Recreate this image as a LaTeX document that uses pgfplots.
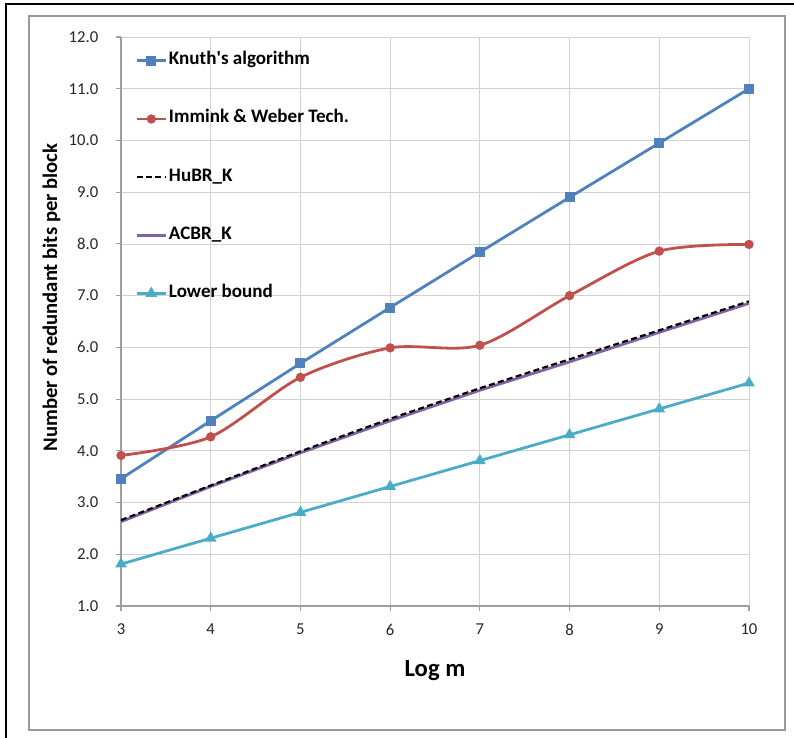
\documentclass[border=0pt]{standalone}
\usepackage{fontspec}
\setmainfont{Carlito}
\usepackage{pgfplots}
\pgfplotsset{compat=1.18}
\definecolor{cKnuth}{HTML}{4F81BD}
\definecolor{cImm}{HTML}{C0504D}
\definecolor{cACBR}{HTML}{8064A2}
\definecolor{cLow}{HTML}{4BACC6}
\newcommand{\tkfont}{\fontsize{12.5}{14}\selectfont}
\begin{document}
\begin{tikzpicture}
\useasboundingbox (-90.75pt,-99pt) rectangle (504.75pt,454.5pt);
\draw[black, line width=1pt] (-86.25pt,-120pt) -- (-86.25pt,451.5pt) -- (520pt,451.5pt);
\draw[gray!80, line width=0.8pt] (-69pt,-93pt) rectangle (498pt,442.5pt);
\begin{axis}[
  at={(0pt,0pt)}, anchor=south west,
  scale only axis, width=471pt, height=426.75pt,
  xmin=3, xmax=10, ymin=1, ymax=12,
  xtick={3,...,10}, ytick={1,...,12},
  axis lines*=left,
  axis line style={gray!75, line width=0.8pt},
  grid=major,
  major grid style={gray!35, line width=0.6pt},
  tick style={gray!75, line width=0.8pt},
  tick align=outside, major tick length=4pt,
  /pgf/number format/assume math mode=true,
  xticklabel={\hbox{\tkfont\pgfmathprintnumber{\tick}}},
  yticklabel={\hbox{\tkfont\pgfmathprintnumber[fixed,fixed zerofill,precision=1]{\tick}}},
  tick label style={text=black!85},
  xticklabel style={yshift=-6pt},
  yticklabel style={xshift=-9.5pt},
  xlabel={\textbf{Log m}},
  ylabel={\textbf{Number of redundant bits per block}},
  xlabel style={font=\fontsize{18.5}{21}\selectfont, at={(axis description cs:0.5,0)}, anchor=north, yshift=-37pt},
  ylabel style={font=\fontsize{15.5}{18}\selectfont, at={(axis description cs:0,0.5)}, anchor=south, yshift=42pt, xshift=18pt},
  legend cell align=left,
  legend image code/.code={\draw[mark repeat=2,mark phase=2,#1] plot coordinates {(0pt,0pt)(11pt,0pt)(22pt,0pt)};},
  legend style={draw=none, fill=none, at={(axis description cs:0,1)}, anchor=north west,
    xshift=10.5pt, yshift=-10.5pt, inner sep=0pt, row sep=29.2pt,
    nodes={inner sep=1.2pt, text height=9pt, text depth=3pt, anchor=west, font=\bfseries\fontsize{14.3}{16}\selectfont}},
]
\addplot[cKnuth, line width=2.1pt, mark=square*, mark size=2.7pt, mark options={solid}] coordinates {
(3,3.46)(4,4.58)(5,5.69)(6,6.77)(7,7.84)(8,8.90)(9,9.95)(10,11.0)};
\addlegendentry{Knuth\textquotesingle s algorithm}
\addplot[cImm, line width=2.1pt, smooth, mark=*, mark size=2.4pt, mark options={solid}] coordinates {
(3,3.91)(4,4.27)(5,5.42)(6,5.99)(7,6.04)(8,7.00)(9,7.86)(10,7.99)};
\addlegendentry{Immink \& Weber Tech.}
\addplot[cACBR, line width=2.1pt, forget plot] coordinates {
(3,2.63)(4,3.31)(5,3.96)(6,4.58)(7,5.17)(8,5.72)(9,6.29)(10,6.85)};
\addplot[black, line width=1.6pt, dash pattern=on 4.5pt off 2.5pt] coordinates {
(3,2.66)(4,3.33)(5,3.99)(6,4.62)(7,5.21)(8,5.77)(9,6.33)(10,6.89)};
\addlegendentry{HuBR\_K}
\addlegendimage{cACBR, line width=2.1pt}
\addlegendentry{ACBR\_K}
\addplot[cLow, line width=2.1pt, mark=triangle*, mark size=3pt, mark options={solid}] coordinates {
(3,1.81)(4,2.31)(5,2.81)(6,3.31)(7,3.81)(8,4.31)(9,4.81)(10,5.31)};
\addlegendentry{Lower bound}
\end{axis}
\end{tikzpicture}
\end{document}
